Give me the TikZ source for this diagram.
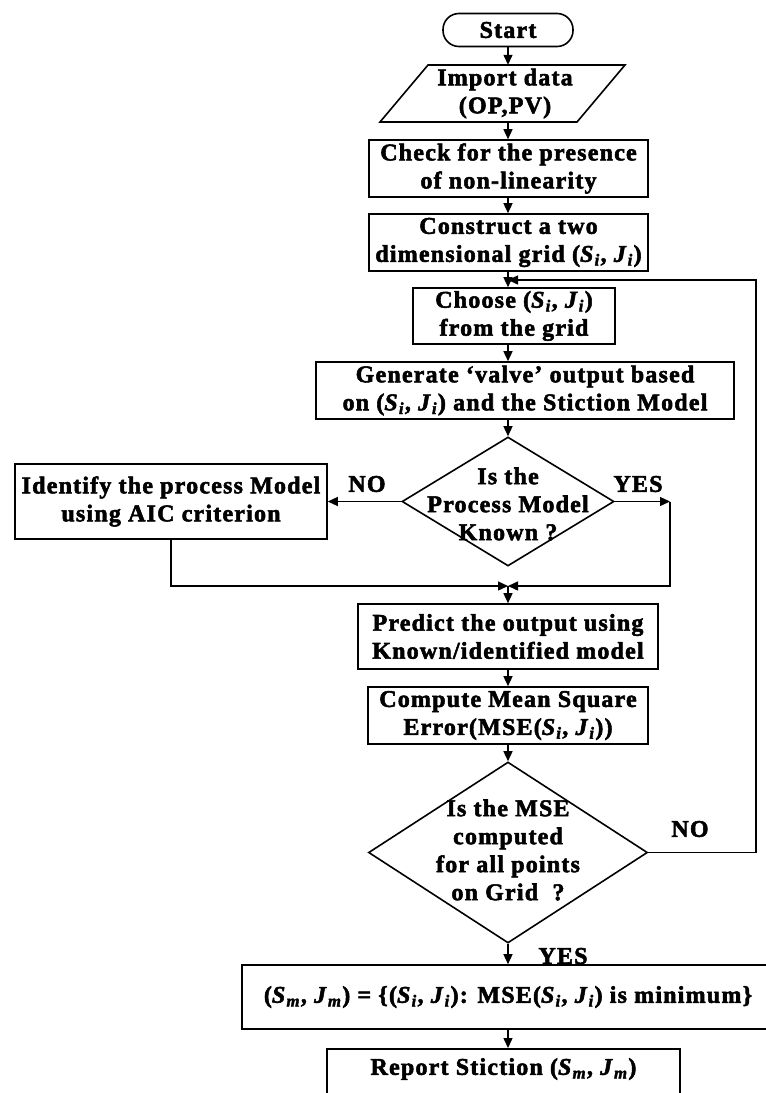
\documentclass[tikz,border=0pt]{standalone}
\usepackage{fontspec}
\setmainfont{Liberation Serif}[LetterSpace=5, BoldFeatures={FakeBold=2.2}, BoldItalicFeatures={FakeBold=2.2}]
\usetikzlibrary{arrows.meta,shapes.geometric}
\newcommand{\ms}[2]{\textit{#1}\textsubscript{\textit{#2}}}
\begin{document}
\begin{tikzpicture}[x=1pt,y=-1pt,
  every node/.style={font=\fontsize{24}{28}\selectfont\bfseries},
  box/.style={draw, line width=1.6pt, inner sep=0pt, align=center},
  term/.style={box, rounded corners=16pt},
  txt/.style={inner sep=0pt, align=center},
  dia/.style={draw, diamond, line width=1.6pt, inner sep=0pt},
  arr/.style={-{Triangle[length=10pt,width=9pt]}, line width=1.4pt},
  lbl/.style={inner sep=0pt}]
\useasboundingbox (0,0) rectangle (766,1093);
\fill[white] (0,0) rectangle (766,1093);
\coordinate (spine) at (508,0);
% nodes
\node[term, minimum width=130pt, minimum height=33pt] (start) at (508,30) {Start};
\draw[line width=1.6pt] (380,122) -- (428,65) -- (625,65) -- (577,122) -- cycle;
\node[txt, minimum width=150pt, minimum height=57pt] (imp) at (505,93.5) {Import data\\(OP,PV)};
\node[box, minimum width=279pt, minimum height=57pt] (check) at (508.5,168.5) {Check for the presence\\of non-linearity};
\node[box, minimum width=279pt, minimum height=57pt] (grid) at (508.5,242.5) {Construct a two\\dimensional grid (\ms{S}{i}, \ms{J}{i})};
\node[box, minimum width=202pt, minimum height=56pt] (choose) at (514,316) {Choose (\ms{S}{i}, \ms{J}{i})\\from the grid};
\node[box, minimum width=418pt, minimum height=57pt] (gen) at (525,390.5) {Generate ‘valve’ output based\\on (\ms{S}{i}, \ms{J}{i}) and the Stiction Model};
\node[dia, minimum width=212pt, minimum height=129pt] (d1) at (508,501.5) {};
\node[txt] (d1t) at (508,504) {Is the\\Process Model\\Known ?};
\node[box, minimum width=312pt, minimum height=75pt] (ident) at (171,501.5) {Identify the process Model\\using AIC criterion};
\node[box, minimum width=300pt, minimum height=65pt] (pred) at (508,636.5) {Predict the output using\\Known/identified model};
\node[box, minimum width=280pt, minimum height=57pt] (mse) at (508,715.5) {Compute Mean Square\\Error(MSE(\ms{S}{i}, \ms{J}{i}))};
\node[dia, minimum width=279pt, minimum height=181pt] (d2) at (508,852.5) {};
\node[txt] (d2t) at (508,850) {Is the MSE\\computed\\for all points\\on Grid\ \ ?};
\node[box, minimum width=532pt, minimum height=64pt] (minb) at (508,997) {(\ms{S}{m}, \ms{J}{m}) = \{(\ms{S}{i}, \ms{J}{i}): MSE(\ms{S}{i}, \ms{J}{i}) is minimum\}};
\node[box, anchor=north, minimum width=353pt, inner ysep=3pt, text height=23pt, text depth=42pt] (rep) at (503.5,1048) {Report Stiction (\ms{S}{m}, \ms{J}{m})};
% labels
\node[lbl] (no1) at (367,484) {NO};
\node[lbl] (yes1) at (638,484) {YES};
\node[lbl] (no2) at (690,829) {NO};
\node[lbl] (yes2) at (563,956) {YES};
% helper coordinates
\coordinate (ycorner) at (670,501.5);
\coordinate (merge) at (508,586);
\coordinate (loopend) at (508,280);
\coordinate (rgt) at (756,280);
% connectors
\draw[arr] (start.south -| spine) -- (imp.north -| spine);
\draw[arr] (imp.south -| spine) -- (check.north -| spine);
\draw[arr] (check.south -| spine) -- (grid.north -| spine);
\draw[arr] (grid.south -| spine) -- (choose.north -| spine);
\draw[arr] (choose.south -| spine) -- (gen.north -| spine);
\draw[arr] (gen.south -| spine) -- (d1.north);
\draw[arr] (d1.west) -- (ident.east);
\draw[arr] (d1.east) -- (ycorner);
\draw[arr] (ycorner) |- (merge);
\draw[arr] (ident.south) |- (merge);
\draw[arr] (merge) -- (pred.north);
\draw[arr] (pred.south) -- (mse.north);
\draw[arr] (mse.south) -- (d2.north);
\draw[arr] (d2.east) -| (rgt) -- (loopend);
\draw[arr] (d2.south) -- (minb.north);
\draw[arr] (minb.south) -- (rep.north -| minb.south);
\end{tikzpicture}
\end{document}
